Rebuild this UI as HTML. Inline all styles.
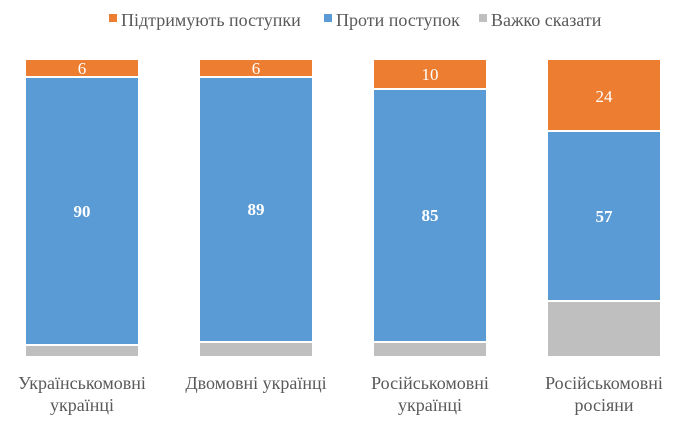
<!DOCTYPE html>
<html><head><meta charset="utf-8"><style>
body{margin:0;background:#fff;font-family:"Liberation Serif",serif}
text{font-family:"Liberation Serif",serif}
</style></head><body>
<svg width="690" height="433" viewBox="0 0 690 433" xmlns="http://www.w3.org/2000/svg" font-family="Liberation Serif, serif">
<g font-size="18" fill="#595959">
<rect x="109" y="14" width="8" height="8" fill="#ED7D31"/>
<text x="121" y="26">Підтримують поступки</text>
<rect x="324" y="14" width="8" height="8" fill="#5B9BD5"/>
<text x="336" y="26">Проти поступок</text>
<rect x="479" y="14" width="8" height="8" fill="#BFBFBF"/>
<text x="491" y="26">Важко сказати</text>
</g>
<g stroke="#fff" stroke-width="2">
<rect x="25" y="59" width="114" height="18" fill="#ED7D31"/>
<rect x="25" y="77" width="114" height="268" fill="#5B9BD5"/>
<rect x="25" y="345" width="114" height="12" fill="#BFBFBF"/>
<rect x="199" y="59" width="114" height="18" fill="#ED7D31"/>
<rect x="199" y="77" width="114" height="265" fill="#5B9BD5"/>
<rect x="199" y="342" width="114" height="15" fill="#BFBFBF"/>
<rect x="373" y="59" width="114" height="30" fill="#ED7D31"/>
<rect x="373" y="89" width="114" height="253" fill="#5B9BD5"/>
<rect x="373" y="342" width="114" height="15" fill="#BFBFBF"/>
<rect x="547" y="59" width="114" height="72" fill="#ED7D31"/>
<rect x="547" y="131" width="114" height="170" fill="#5B9BD5"/>
<rect x="547" y="301" width="114" height="56" fill="#BFBFBF"/>
</g>
<g fill="#fff" font-size="17" text-anchor="middle">
<text x="82" y="74">6</text>
<text x="256" y="74">6</text>
<text x="430" y="80">10</text>
<text x="604" y="102">24</text>
<g font-weight="bold">
<text x="82" y="217">90</text>
<text x="256" y="215">89</text>
<text x="430" y="221">85</text>
<text x="604" y="222">57</text>
</g>
</g>
<g fill="#595959" font-size="18" text-anchor="middle">
<text x="82" y="389">Українськомовні</text>
<text x="82" y="411">українці</text>
<text x="256" y="389">Двомовні українці</text>
<text x="430" y="389">Російськомовні</text>
<text x="430" y="411">українці</text>
<text x="604" y="389">Російськомовні</text>
<text x="604" y="411">росіяни</text>
</g>
</svg>
</body></html>
